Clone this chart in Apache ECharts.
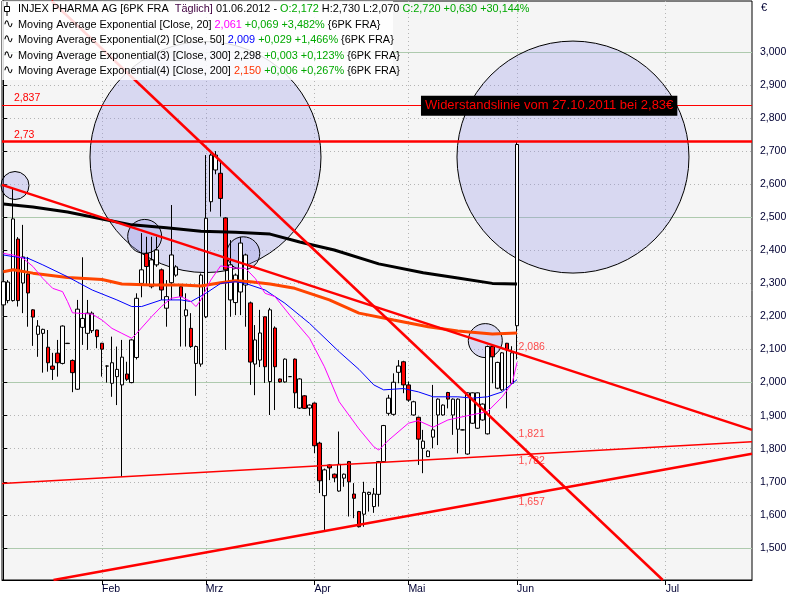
<!DOCTYPE html>
<html><head><meta charset="utf-8">
<script src="https://cdn.jsdelivr.net/npm/echarts@6/dist/echarts.min.js"></script>
<style>html,body{margin:0;padding:0;background:#fff}#c{width:800px;height:600px}</style>
</head><body><div id="c"></div>
<script>
// ---- DATA (x = trading-day index, 0 = 04.01.2012 ... 104 = 01.06.2012) ----
// [open, close, low, high]
const candleOHLC = [
[2.235,2.305,2.199,2.305],[2.248,2.304,2.240,2.310],[2.248,2.495,2.245,2.588],[2.434,2.248,2.230,2.440],
[2.301,2.380,2.210,2.477],[2.328,2.271,2.169,2.380],[2.220,2.198,2.111,2.222],[2.146,2.171,2.078,2.189],
[2.149,2.161,2.030,2.163],[2.107,2.060,2.033,2.159],[2.050,2.040,2.008,2.090],[2.089,2.060,2.018,2.129],
[2.058,2.171,2.055,2.173],[2.119,2.118,2.117,2.120],[2.067,2.030,1.971,2.070],[1.980,2.222,1.978,2.250],
[2.167,2.194,2.114,2.379],[2.149,2.210,2.099,2.250],[2.157,2.210,2.150,2.215],[2.159,2.139,2.104,2.160],
[2.119,2.101,2.018,2.120],[2.050,2.050,2.000,2.052],[1.998,2.060,1.957,2.139],[2.018,2.040,1.932,2.109],
[1.993,2.077,1.715,2.129],[2.026,2.010,2.005,2.063],[2.000,2.129,1.998,2.131],[2.076,2.255,2.070,2.270],
[2.300,2.341,2.258,2.452],[2.391,2.351,2.298,2.441],[2.290,2.371,2.285,2.441],[2.356,2.401,2.350,2.441],
[2.341,2.280,2.250,2.345],[2.225,2.260,2.169,2.310],[2.302,2.386,2.250,2.537],[2.325,2.350,2.320,2.355],
[2.290,2.260,2.109,2.295],[2.202,2.220,2.109,2.270],[2.164,2.109,2.105,2.210],[2.058,2.109,1.960,2.112],
[2.056,2.325,2.048,2.330],[2.199,2.497,2.195,2.688],[2.547,2.688,2.517,2.693],[2.643,2.688,2.630,2.700],
[2.633,2.557,2.502,2.668],[2.498,2.341,2.099,2.500],[2.250,2.356,2.199,2.431],[2.242,2.325,2.204,2.330],
[2.274,2.422,2.204,2.440],[2.295,2.386,2.169,2.390],[2.241,2.062,1.993,2.245],[2.056,2.129,1.962,2.174],
[2.068,2.150,2.047,2.220],[2.199,2.048,1.999,2.200],[2.003,2.220,1.902,2.226],[2.165,2.048,1.917,2.170],
[2.011,2.002,2.000,2.012],[2.002,2.071,2.000,2.073],[2.018,2.018,2.017,2.019],[2.071,1.969,1.923,2.073],
[1.923,2.011,1.920,2.013],[1.960,1.922,1.920,1.962],[1.923,1.932,1.900,1.934],[1.938,1.809,1.787,1.940],
[1.817,1.703,1.666,1.821],[1.658,1.736,1.554,1.740],[1.751,1.742,1.705,1.753],[1.723,1.712,1.699,1.725],
[1.672,1.753,1.670,1.852],[1.711,1.723,1.685,1.725],[1.761,1.700,1.595,1.763],[1.663,1.650,1.590,1.696],
[1.610,1.564,1.562,1.612],[1.602,1.668,1.564,1.700],[1.662,1.668,1.610,1.670],[1.625,1.663,1.606,1.681],
[1.662,1.761,1.625,1.763],[1.761,1.870,1.758,1.872],[1.907,1.953,1.900,1.963],[1.904,2.001,1.900,2.028],
[2.031,2.050,1.998,2.068],[2.063,1.993,1.968,2.066],[1.993,1.947,1.942,2.003],[1.902,1.942,1.900,1.945],
[1.895,1.829,1.751,1.897],[1.801,1.823,1.726,1.857],[1.776,1.793,1.775,1.795],[1.835,1.857,1.801,1.993],
[1.902,1.950,1.811,1.952],[1.902,1.932,1.900,1.934],[1.970,1.950,1.922,1.972],[1.902,1.950,1.842,1.952],
[1.859,1.950,1.786,1.952],[1.857,1.857,1.856,1.858],[1.784,1.969,1.782,1.970],[1.877,1.969,1.875,1.970],
[1.862,1.969,1.860,1.970],[1.887,1.935,1.885,1.937],[1.845,2.109,1.843,2.112],[2.109,2.078,1.998,2.110],
[1.983,2.061,1.980,2.063],[1.978,2.090,1.975,2.092],[2.119,2.099,1.922,2.120],[1.998,2.090,1.995,2.110],
[2.172,2.720,2.070,2.730]
];
// moving averages: [dayIndex, value]
const ema300 = [[0,2.540],[6,2.531],[13,2.516],[20,2.495],[26,2.477],[33,2.468],[40,2.458],[47,2.455],[54,2.449],[60,2.425],[67,2.401],[76,2.359],[85,2.332],[92,2.316],[99,2.300],[104,2.298]];
const ema200 = [[0,2.335],[2,2.341],[6,2.331],[13,2.318],[20,2.312],[24,2.298],[30,2.295],[36,2.295],[40,2.292],[44,2.302],[47,2.308],[50,2.305],[54,2.298],[59,2.285],[66,2.250],[72,2.210],[79,2.189],[86,2.169],[92,2.156],[99,2.147],[104,2.150]];
const ema50 = [[0,2.386],[2,2.381],[5,2.376],[8,2.356],[13,2.320],[18,2.280],[23,2.250],[26,2.230],[28,2.230],[32,2.250],[36,2.250],[38,2.245],[41,2.270],[44,2.300],[47,2.305],[49,2.300],[53,2.280],[57,2.240],[62,2.179],[68,2.093],[72,2.040],[75,1.993],[77,1.978],[81,1.982],[84,1.972],[87,1.957],[92,1.957],[95,1.953],[98,1.957],[101,1.972],[104,2.009]];
const ema20 = [[0,2.391],[1,2.388],[2,2.386],[4,2.376],[6,2.351],[8,2.315],[10,2.285],[12,2.275],[13,2.245],[14,2.211],[16,2.209],[18,2.207],[20,2.189],[22,2.164],[24,2.149],[26,2.134],[27,2.149],[30,2.199],[32,2.230],[34,2.255],[36,2.260],[38,2.245],[39,2.230],[40,2.250],[42,2.310],[44,2.353],[47,2.346],[49,2.346],[51,2.315],[53,2.270],[55,2.260],[58,2.204],[62,2.134],[65,2.048],[68,1.942],[72,1.860],[75,1.806],[76,1.796],[78,1.826],[82,1.877],[84,1.885],[87,1.865],[90,1.887],[94,1.900],[98,1.912],[101,1.957],[103,1.998],[104,2.061]];
// trend lines (endpoints)
const trendA = [[-0.263,2.598],[151.56,1.857]];
const trendB = [[-0.263,1.695],[151.56,1.821]];
const trendC = [[10.16,1.403],[151.56,1.785]];
const trendD = [[9.76,3.154],[133.5,1.403]];
const trendValuesJun = [2.086,1.821,1.782,1.657];
const resistanceLevels = [2.837,2.73];
const circleCenters = [[40.93,2.682],[115.32,2.682],[2.37,2.596],[28.62,2.442],[48.58,2.391],[97.57,2.127]];
const annotationAnchor = [84.55,2.837];
const annotationText = 'Widerstandslinie vom 27.10.2011 bei 2,83€';
const monthTicks = [20,41,63,82,104,134.1];
const monthLabels = ['Feb','Mrz','Apr','Mai','Jun','Jul'];
const priceTicks = [1.5,1.6,1.7,1.8,1.9,2.0,2.1,2.2,2.3,2.4,2.5,2.6,2.7,2.8,2.9,3.0];
const majorPriceTicks = [1.5,2.0,2.5,3.0];

// ---- STYLE ----
const circleDiameters = [231,232,28,34,33,34];
const junLabelDy = [-7,-8,6,6];
const FONT = 'Liberation Sans';
const LFS = 10.9;
const X_MIN = -0.263, X_MAX = 151.56, Y_MIN = 1.403, Y_MAX = 3.154;
const fmt3 = v => v.toFixed(3).replace('.', ',');

const chart = echarts.init(document.getElementById('c'), null, {renderer: 'canvas'});
const gridLine = {color: '#b4b4b4', type: [1, 3], width: 1};
const option = {
  animation: false,
  backgroundColor: '#ffffff',
  grid: {left: 2, right: 48, top: 1, bottom: 20, show: true, backgroundColor: '#f5f5f5', borderColor: '#000', borderWidth: 1},
  xAxis: {
    type: 'value', min: X_MIN, max: X_MAX, position: 'bottom',
    axisLine: {show: true, lineStyle: {color: '#000'}},
    axisTick: {show: true, customValues: monthTicks, length: 5, lineStyle: {color: '#000'}},
    axisLabel: {show: true, customValues: monthTicks, align: 'left', margin: 4, color: '#000033', fontFamily: FONT, fontSize: 10.5,
      formatter: v => { const i = monthTicks.findIndex(t => Math.abs(t - v) < 0.01); return i >= 0 ? monthLabels[i] : ''; }},
    splitLine: {show: true, lineStyle: gridLine}
  },
  yAxis: [{
    type: 'value', min: Y_MIN, max: Y_MAX, position: 'right',
    axisLine: {show: true, lineStyle: {color: '#000'}},
    axisTick: {show: true, customValues: priceTicks, length: 4, lineStyle: {color: '#000'}},
    axisLabel: {show: true, customValues: priceTicks, margin: 8, color: '#000033', fontFamily: FONT, fontSize: 10.5, formatter: v => fmt3(v)},
    splitLine: {show: true, lineStyle: gridLine}
  }, {
    type: 'value', min: Y_MIN, max: Y_MAX, position: 'left',
    axisLine: {show: false}, axisLabel: {show: false},
    axisTick: {show: false, customValues: majorPriceTicks},
    splitLine: {show: true, lineStyle: {color: '#aecaae', width: 1, type: 'solid'}}
  }],
  graphic: [
    {type: 'text', left: 761, top: 2, style: {text: '€', font: '11px "Liberation Sans"', fill: '#000033'}},
    {type: 'rect', shape: {x: 2, y: 1, width: 391, height: 79}, style: {fill: 'rgba(255,255,255,0.85)'}, z: 100, silent: true},
    {type: 'line', shape: {x1: 7, y1: 2, x2: 7, y2: 16}, style: {stroke: '#000', lineWidth: 1}, z: 101},
    {type: 'rect', shape: {x: 4.5, y: 6.5, width: 5, height: 5}, style: {fill: '#fff', stroke: '#000', lineWidth: 1}, z: 102},
  ],
  series: []
};

// legend text rows
const rich = {
  b: {fill: '#000', fontFamily: FONT, fontSize: LFS},
  p: {fill: '#400040', fontFamily: FONT, fontSize: LFS},
  g: {fill: '#00a800', fontFamily: FONT, fontSize: LFS},
  m: {fill: '#ff00ff', fontFamily: FONT, fontSize: LFS},
  u: {fill: '#0000ff', fontFamily: FONT, fontSize: LFS},
  o: {fill: '#ff3300', fontFamily: FONT, fontSize: LFS}
};
const legendRows = [
  '{b|INJEX PHARMA AG [6PK FRA  }{p|Täglich]}{b| 01.06.2012 - }{g|O:2,172}{b| H:2,730 L:2,070 }{g|C:2,720 +0,630 +30,144%}',
  '{b|Moving Average Exponential [Close, 20] }{m|2,061}{g| +0,069 +3,482%} {6PK FRA}',
  '{b|Moving Average Exponential(2) [Close, 50] }{u|2,009}{g| +0,029 +1,466%} {6PK FRA}',
  '{b|Moving Average Exponential(3) [Close, 300] 2,298}{g| +0,003 +0,123%} {6PK FRA}',
  '{b|Moving Average Exponential(4) [Close, 200] }{o|2,150}{g| +0,006 +0,267%} {6PK FRA}'
];
const rowY = [9, 24.5, 40, 55.5, 71];
legendRows.forEach((t, i) => {
  option.graphic.push({type: 'text', z: 103, silent: true,
    style: {x: 18, y: rowY[i], text: t, rich: rich, fill: '#000', font: LFS + 'px "Liberation Sans"', verticalAlign: 'middle'}});
  if (i > 0) option.graphic.push({type: 'text', z: 103, silent: true,
    style: {x: 3, y: rowY[i], text: '∿', fill: '#000', font: '13px "DejaVu Sans"', verticalAlign: 'middle'}});
});

option.series.push({
  name: 'circles', type: 'scatter', z: 1, silent: true,
  data: circleCenters.map((c, i) => ({value: c, symbolSize: circleDiameters[i]})),
  symbol: 'circle',
  itemStyle: {color: 'rgba(150,150,232,0.30)', borderColor: '#000', borderWidth: 1, opacity: 1}
});
option.series.push({
  name: 'INJEX PHARMA AG', type: 'candlestick', z: 3,
  data: candleOHLC.map((d, i) => [i, d[0], d[1], d[2], d[3]]),
  encode: {x: 0, y: [1, 2, 3, 4]},
  barWidth: 4,
  itemStyle: {color: '#ffffff', color0: '#ff0000', borderColor: '#000', borderColor0: '#000', borderWidth: 1}
});
const maSeries = [[ema300, '#000000', 3], [ema200, '#ff4500', 3], [ema50, '#0000ff', 1], [ema20, '#ff00ff', 1]];
maSeries.forEach(([d, c, w]) => option.series.push({type: 'line', z: 4, data: d, showSymbol: false, smooth: false, lineStyle: {color: c, width: w}, silent: true}));

const trendSeries = [[trendA, 2.5], [trendB, 1.5], [trendC, 2.5], [trendD, 2.5]];
trendSeries.forEach(([d, w], i) => {
  const s = {type: 'line', z: 5, data: d, showSymbol: false, lineStyle: {color: '#ff0000', width: w}, silent: true};
  if (i === 0) {
    s.markLine = {
      silent: true, symbol: 'none', z: 5,
      data: resistanceLevels.map((v, j) => ({
        yAxis: v,
        lineStyle: {color: '#ff0000', type: 'solid', width: j === 0 ? 1 : 2.5},
        label: {show: true, position: 'insideStartTop', distance: [12, 1], formatter: String(v).replace('.', ','),
          color: '#ff0000', fontFamily: FONT, fontSize: 10.5}
      }))
    };
    s.markPoint = {
      silent: true, symbol: 'rect', symbolSize: 0,
      data: [{coord: annotationAnchor, label: {show: true, position: 'right', distance: 0, formatter: annotationText,
        color: '#ff0000', backgroundColor: '#000', padding: [4, 4, 3, 4], fontFamily: FONT, fontSize: 13}}]
    };
  }
  option.series.push(s);
});
option.series.push({
  type: 'scatter', z: 6, silent: true, symbolSize: 1, itemStyle: {color: 'rgba(0,0,0,0)'},
  data: trendValuesJun.map((v, i) => ({value: [104, v], label: {offset: [0, junLabelDy[i]]}})),
  label: {show: true, position: 'right', distance: 1, formatter: p => fmt3(p.value[1]), color: '#ff2020', fontFamily: FONT, fontSize: 10.5}
});
chart.setOption(option);
</script></body></html>
